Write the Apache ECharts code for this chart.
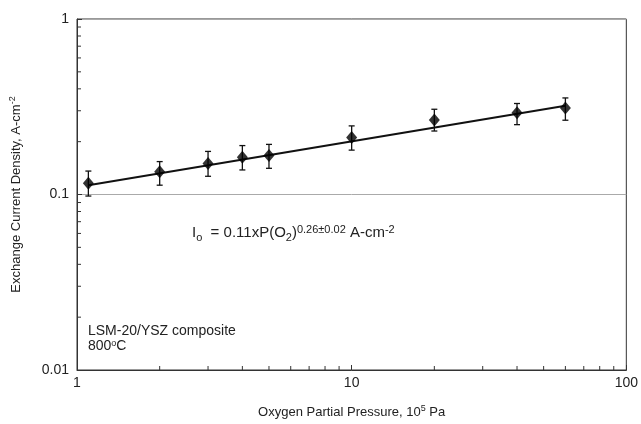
<!DOCTYPE html>
<html><head><meta charset="utf-8">
<script src="https://cdn.jsdelivr.net/npm/echarts@6/dist/echarts.min.js"></script>
<style>html,body{margin:0;padding:0;background:#fff}#c{width:641px;height:424px}</style>
</head><body><div id="c"></div>
<script>
// Data
const pressure = [1.1, 2, 3, 4, 5, 10, 20, 40, 60];
const currentDensity = [0.116, 0.135, 0.150, 0.163, 0.167, 0.211, 0.266, 0.292, 0.311];
const errLow = [0.098, 0.113, 0.127, 0.138, 0.141, 0.179, 0.230, 0.250, 0.265];
const errHigh = [0.136, 0.154, 0.176, 0.190, 0.193, 0.246, 0.306, 0.330, 0.355];
const fitX = [1.1, 60];
const fitY = [0.113, 0.320];
const xMinorTicks = [2,3,4,5,6,7,8,9,20,30,40,50,60,70,80,90];
const yMinorTicks = [0.02,0.03,0.04,0.05,0.06,0.07,0.08,0.09,0.2,0.3,0.4,0.5,0.6,0.7,0.8,0.9];

const font = '"Liberation Sans", Arial, sans-serif';
const axisCol = '#333';
const chart = echarts.init(document.getElementById('c'), null, {renderer: 'canvas'});

const option = {
  backgroundColor: '#fff',
  animation: false,
  textStyle: {fontFamily: font},
  grid: {left: 75, right: 13, top: 19, bottom: 50, show: true, borderColor: axisCol, borderWidth: 1, backgroundColor: 'transparent'},
  xAxis: {
    type: 'log', logBase: 10, min: 1, max: 100,
    axisLine: {lineStyle: {color: axisCol, width: 1}},
    axisTick: {inside: true, length: 5, lineStyle: {color: axisCol}},
    axisLabel: {color: '#222', fontSize: 14, fontFamily: font, margin: 6},
    splitLine: {show: false},
    name: 'Oxygen Partial Pressure, 10{sup|5} Pa',
    nameLocation: 'middle', nameGap: 34,
    nameTextStyle: {color: '#222', fontSize: 13, fontFamily: font,
      rich: {sup: {fontSize: 9, verticalAlign: 'top', padding: [0,0,8,0], fontFamily: font, color: '#222'}}}
  },
  yAxis: {
    type: 'log', logBase: 10, min: 0.01, max: 1,
    axisLine: {lineStyle: {color: axisCol, width: 1}},
    axisTick: {inside: true, length: 5, lineStyle: {color: axisCol}},
    axisLabel: {color: '#222', fontSize: 14, fontFamily: font, margin: 8,
      formatter: v => (v >= 1 ? '1' : (v >= 0.1 ? '0.1' : '0.01'))},
    splitLine: {show: true, lineStyle: {color: '#aaa', width: 1}},
    name: 'Exchange Current Density, A-cm{sup|-2}',
    nameLocation: 'middle', nameGap: 52,
    nameTextStyle: {color: '#222', fontSize: 13, fontFamily: font,
      rich: {sup: {fontSize: 9, padding: [0,0,8,0], fontFamily: font, color: '#222'}}}
  },
  series: [
    {
      type: 'custom', silent: true, clip: false, z: 3,
      data: xMinorTicks.map(v => [v, 0.01]),
      renderItem: (params, api) => {
        const p = api.coord([api.value(0), api.value(1)]);
        return {type: 'line', shape: {x1: p[0], y1: p[1], x2: p[0], y2: p[1] - 4}, style: {stroke: axisCol, lineWidth: 1}};
      }
    },
    {
      type: 'custom', silent: true, clip: false, z: 3,
      data: yMinorTicks.map(v => [1, v]),
      renderItem: (params, api) => {
        const p = api.coord([api.value(0), api.value(1)]);
        return {type: 'line', shape: {x1: p[0], y1: p[1], x2: p[0] + 4, y2: p[1]}, style: {stroke: axisCol, lineWidth: 1}};
      }
    },
    {
      type: 'line', data: fitX.map((x, i) => [x, fitY[i]]), symbol: 'none',
      lineStyle: {color: '#111', width: 2}, z: 4, silent: true
    },
    {
      type: 'custom', silent: true, z: 5,
      data: pressure.map((x, i) => [x, errLow[i], errHigh[i]]),
      renderItem: (params, api) => {
        const lo = api.coord([api.value(0), api.value(1)]);
        const hi = api.coord([api.value(0), api.value(2)]);
        const w = 3;
        const st = {stroke: '#111', lineWidth: 1.3};
        return {type: 'group', children: [
          {type: 'line', shape: {x1: lo[0], y1: lo[1], x2: hi[0], y2: hi[1]}, style: st},
          {type: 'line', shape: {x1: lo[0]-w, y1: lo[1], x2: lo[0]+w, y2: lo[1]}, style: st},
          {type: 'line', shape: {x1: hi[0]-w, y1: hi[1], x2: hi[0]+w, y2: hi[1]}, style: st}
        ]};
      }
    },
    {
      type: 'scatter', data: pressure.map((x, i) => [x, currentDensity[i]]),
      symbol: 'diamond', symbolSize: [11, 13],
      itemStyle: {color: '#000'}, z: 6, silent: true
    }
  ],
  graphic: [
    {type: 'text', left: 192, top: 224, style: {
      text: 'I{sub|o}  = 0.11xP(O{sub|2}){sup|0.26±0.02} A-cm{sup|-2}',
      font: '15px ' + font, fill: '#222',
      rich: {
        sub: {fontSize: 11, padding: [9,0,0,0], fontFamily: font, fill: '#222'},
        sup: {fontSize: 11, padding: [0,0,7,0], fontFamily: font, fill: '#222'}
      }
    }},
    {type: 'text', left: 88, top: 324, style: {text: 'LSM-20/YSZ composite', font: '14px ' + font, fill: '#222'}},
    {type: 'text', left: 88, top: 339, style: {text: '800{sup|o}C', font: '14px ' + font, fill: '#222',
      rich: {sup: {fontSize: 9, padding: [0,0,6,0], fontFamily: font, fill: '#222'}}}}
  ]
};
chart.setOption(option);
</script>
</body></html>
